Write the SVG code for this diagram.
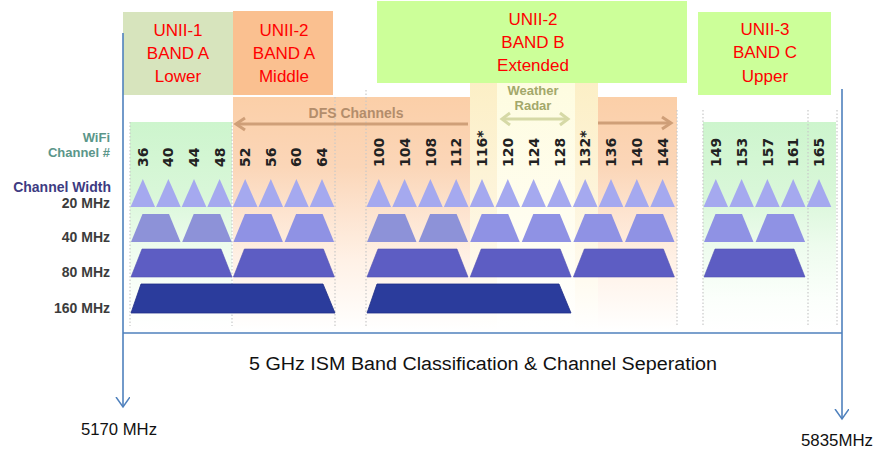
<svg xmlns="http://www.w3.org/2000/svg" xmlns:xlink="http://www.w3.org/1999/xlink" width="887" height="458" viewBox="0 0 887 458">
<style>
.box-t{font-family:"Liberation Sans",Arial,sans-serif;font-size:17px;fill:#ff0000;text-anchor:middle}
.ch{font-family:"DejaVu Sans",sans-serif;font-weight:bold;font-size:14px;fill:#222}
.rl{font-family:"Liberation Sans",Arial,sans-serif;font-weight:bold;font-size:14px;fill:#3c3c3c;text-anchor:end}
.cap{font-family:"Liberation Sans",Arial,sans-serif;fill:#111}
.sep{stroke:#c9c9c9;stroke-width:1.2;stroke-dasharray:1.5 2;fill:none}
.t20{fill:#a5a9ef}
.t40{fill:#8f92e4}
.t80{fill:#5d5dc3;stroke:#5252b4;stroke-width:0.6}
.t160{fill:#2b3c9c;stroke:#1f2f88;stroke-width:0.8}
.conn{stroke:#4f81bd;stroke-width:1.6;fill:none}
.wr{font-family:"Liberation Sans",Arial,sans-serif;font-weight:bold;font-size:13px;fill:#a3a86a;text-anchor:middle}
</style>
<defs>
<linearGradient id="gG" x1="0" y1="0" x2="0" y2="1">
<stop offset="0" stop-color="#cdf5cd"/><stop offset="0.35" stop-color="#d9f7d9"/><stop offset="0.6" stop-color="#eefcee"/><stop offset="0.85" stop-color="#fbfffb"/><stop offset="1" stop-color="#ffffff"/>
</linearGradient>
<linearGradient id="gO" x1="0" y1="0" x2="0" y2="1">
<stop offset="0" stop-color="#fbcfa8"/><stop offset="0.3" stop-color="#fbd6b8"/><stop offset="0.5" stop-color="#fde4d0"/><stop offset="0.7" stop-color="#fff1e6"/><stop offset="0.9" stop-color="#fffaf6"/><stop offset="1" stop-color="#ffffff"/>
</linearGradient>
<linearGradient id="gY" x1="0" y1="0" x2="0" y2="1">
<stop offset="0" stop-color="#fcefc6"/><stop offset="0.45" stop-color="#fdf4da"/><stop offset="0.8" stop-color="#fffbf0"/><stop offset="1" stop-color="#ffffff"/>
</linearGradient>
<linearGradient id="gY2" x1="0" y1="0" x2="0" y2="1">
<stop offset="0" stop-color="#fefce0"/><stop offset="0.5" stop-color="#fffdee"/><stop offset="1" stop-color="#ffffff"/>
</linearGradient>
<polygon id="s20" points="0.5,207 12.8,179 25.1,207"/>
<polygon id="s40" points="1,242 12.5,214 39,214 50.5,242"/>
<polygon id="s80" points="1,277 12,249 91,249 102,277"/>
<polygon id="s160" points="1,313 11,284 193,284 205,313"/>
<marker id="v" markerWidth="14" markerHeight="16" refX="10" refY="7" orient="auto" markerUnits="userSpaceOnUse">
<path d="M0,0 L10,7 L0,14" fill="none" stroke="#4f81bd" stroke-width="1.5"/>
</marker>
</defs>
<rect width="887" height="458" fill="#ffffff"/>

<g id="chart">
<rect x="130" y="122" width="102" height="208" fill="url(#gG)"/>
<rect x="233" y="97" width="444" height="233" fill="url(#gO)"/>
<rect x="470" y="83" width="128" height="247" fill="url(#gY)"/>
<rect x="497" y="83" width="78" height="247" fill="url(#gY2)"/>
<rect x="703" y="122" width="133" height="208" fill="url(#gG)"/>
<g>
<path class="sep" d="M130,122V326M232,122V326M335,97V326M366,90V326M677,110V326M703,110V326M808,110V326M837,110V326"/>
</g>
<g id="dfs">
<path d="M236,124H468M598,123H671" stroke="#cf9f78" stroke-width="3" fill="none"/>
<polyline points="245,118 236,124 245,130" stroke="#cf9f78" stroke-width="3" fill="none"/>
<polyline points="662,117 671,123 662,129" stroke="#cf9f78" stroke-width="3" fill="none"/>
<text x="356" y="118" font-family="Liberation Sans, Arial, sans-serif" font-weight="bold" font-size="14" fill="#b38d6b" text-anchor="middle">DFS Channels</text>
</g>
<g id="weather">
<path d="M502,119H568" stroke="#d6d9a6" stroke-width="3" fill="none"/>
<polyline points="510,113 502,119 510,125" stroke="#d6d9a6" stroke-width="3" fill="none"/>
<polyline points="560,113 568,119 560,125" stroke="#d6d9a6" stroke-width="3" fill="none"/>
<text class="wr" x="533" y="95">Weather</text>
<text class="wr" x="533" y="110">Radar</text>
</g>
<g id="row-labels">
<text class="rl" x="110" y="142" style="fill:#5b968a;font-size:13px">WiFi</text>
<text class="rl" x="110" y="157" style="fill:#5b968a;font-size:13px">Channel #</text>
<text class="rl" x="111" y="192" style="fill:#3d3b82">Channel Width</text>
<text class="rl" x="110" y="208">20 MHz</text>
<text class="rl" x="110" y="242">40 MHz</text>
<text class="rl" x="110" y="277">80 MHz</text>
<text class="rl" x="110" y="313">160 MHz</text>
</g>
<g id="channel-numbers">
<text class="ch" transform="translate(147.8,167) rotate(-90)">36</text>
<text class="ch" transform="translate(173.4,167) rotate(-90)">40</text>
<text class="ch" transform="translate(199,167) rotate(-90)">44</text>
<text class="ch" transform="translate(224.6,167) rotate(-90)">48</text>
<text class="ch" transform="translate(250.2,167) rotate(-90)">52</text>
<text class="ch" transform="translate(275.8,167) rotate(-90)">56</text>
<text class="ch" transform="translate(301.4,167) rotate(-90)">60</text>
<text class="ch" transform="translate(327,167) rotate(-90)">64</text>
<text class="ch" transform="translate(383.9,167) rotate(-90)">100</text>
<text class="ch" transform="translate(409.7,167) rotate(-90)">104</text>
<text class="ch" transform="translate(435.5,167) rotate(-90)">108</text>
<text class="ch" transform="translate(461.3,167) rotate(-90)">112</text>
<text class="ch" transform="translate(487.1,167) rotate(-90)">116*</text>
<text class="ch" transform="translate(512.9,167) rotate(-90)">120</text>
<text class="ch" transform="translate(538.7,167) rotate(-90)">124</text>
<text class="ch" transform="translate(564.5,167) rotate(-90)">128</text>
<text class="ch" transform="translate(590.3,167) rotate(-90)">132*</text>
<text class="ch" transform="translate(616.1,167) rotate(-90)">136</text>
<text class="ch" transform="translate(641.9,167) rotate(-90)">140</text>
<text class="ch" transform="translate(667.7,167) rotate(-90)">144</text>
<text class="ch" transform="translate(720.9,167) rotate(-90)">149</text>
<text class="ch" transform="translate(746.7,167) rotate(-90)">153</text>
<text class="ch" transform="translate(772.5,167) rotate(-90)">157</text>
<text class="ch" transform="translate(798.3,167) rotate(-90)">161</text>
<text class="ch" transform="translate(824.1,167) rotate(-90)">165</text>
</g>
<g id="w20">
<use href="#s20" class="t20" x="130"/><use href="#s20" class="t20" x="155.6"/><use href="#s20" class="t20" x="181.2"/><use href="#s20" class="t20" x="206.8"/>
<use href="#s20" class="t20" x="232.4"/><use href="#s20" class="t20" x="258"/><use href="#s20" class="t20" x="283.6"/><use href="#s20" class="t20" x="309.2"/>
<use href="#s20" class="t20" x="366"/><use href="#s20" class="t20" x="391.8"/><use href="#s20" class="t20" x="417.6"/><use href="#s20" class="t20" x="443.4"/>
<use href="#s20" class="t20" x="469.2"/><use href="#s20" class="t20" x="495"/><use href="#s20" class="t20" x="520.8"/><use href="#s20" class="t20" x="546.6"/>
<use href="#s20" class="t20" x="572.4"/><use href="#s20" class="t20" x="598.2"/><use href="#s20" class="t20" x="624"/><use href="#s20" class="t20" x="649.8"/>
<use href="#s20" class="t20" x="703"/><use href="#s20" class="t20" x="728.8"/><use href="#s20" class="t20" x="754.6"/><use href="#s20" class="t20" x="780.4"/><use href="#s20" class="t20" x="806.2"/>
</g>
<g id="w40">
<use href="#s40" class="t40" x="130" style="fill:#8d92d8"/><use href="#s40" class="t40" x="181.2" style="fill:#8d92d8"/><use href="#s40" class="t40" x="232.4"/><use href="#s40" class="t40" x="283.6"/>
<use href="#s40" class="t40" x="366" style="fill:#8d92d8"/><use href="#s40" class="t40" x="417.6" style="fill:#8d92d8"/><use href="#s40" class="t40" x="469.2"/><use href="#s40" class="t40" x="520.8"/>
<use href="#s40" class="t40" x="572.4"/><use href="#s40" class="t40" x="624"/>
<use href="#s40" class="t40" x="703"/><use href="#s40" class="t40" x="754.6"/>
</g>
<g id="w80">
<use href="#s80" class="t80" x="130"/><use href="#s80" class="t80" x="232.4"/>
<use href="#s80" class="t80" x="366"/><use href="#s80" class="t80" x="469.2"/><use href="#s80" class="t80" x="572.4"/>
<use href="#s80" class="t80" x="703"/>
</g>
<g id="w160">
<use href="#s160" class="t160" x="130"/><use href="#s160" class="t160" x="366"/>
</g>
</g>

<g id="box-unii1">
<rect x="123" y="12" width="110" height="83" fill="#d7e4bd"/>
<text class="box-t" x="178" y="36">UNII-1</text>
<text class="box-t" x="178" y="59">BAND A</text>
<text class="box-t" x="178" y="82">Lower</text>
</g>
<g id="box-unii2a">
<rect x="233" y="11" width="100" height="84" fill="#fac090"/>
<text class="box-t" x="284" y="36">UNII-2</text>
<text class="box-t" x="284" y="59">BAND A</text>
<text class="box-t" x="284" y="82">Middle</text>
</g>
<g id="box-unii2b">
<rect x="377" y="1" width="310" height="82" fill="#ccff99"/>
<text class="box-t" x="533" y="25">UNII-2</text>
<text class="box-t" x="533" y="48">BAND B</text>
<text class="box-t" x="533" y="71">Extended</text>
</g>
<g id="box-unii3">
<rect x="698" y="12" width="133" height="83" fill="#ccff99"/>
<text class="box-t" x="765" y="35">UNII-3</text>
<text class="box-t" x="765" y="58">BAND C</text>
<text class="box-t" x="765" y="82">Upper</text>
</g>

<g id="connectors">
<path class="conn" d="M123,33V407" marker-end="url(#v)"/>
<path class="conn" d="M842,89V419" marker-end="url(#v)"/>
<path class="conn" d="M123,333H842"/>
</g>

<g id="captions">
<text class="cap" x="249" y="370" font-size="18" textLength="468" lengthAdjust="spacingAndGlyphs">5 GHz ISM Band Classification &amp; Channel Seperation</text>
<text class="cap" x="81" y="435" font-size="16" textLength="76" lengthAdjust="spacingAndGlyphs">5170 MHz</text>
<text class="cap" x="801" y="446" font-size="16" textLength="72" lengthAdjust="spacingAndGlyphs">5835MHz</text>
</g>
</svg>
